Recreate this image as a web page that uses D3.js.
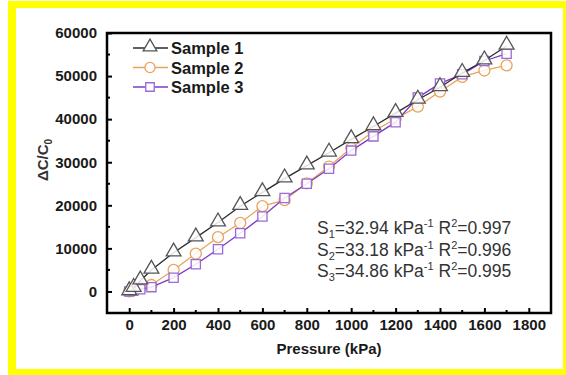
<!DOCTYPE html>
<html>
<head>
<meta charset="utf-8">
<script src="https://cdn.jsdelivr.net/npm/d3@7"></script>
<style>
  body { margin: 0; background: #fff; }
  svg { display: block; font-family: "Liberation Sans", Arial, sans-serif; }
</style>
</head>
<body>
<svg id="chart" width="566" height="375"></svg>
<script>
// data
var pressure = [0, 20, 50, 100, 200, 300, 400, 500, 600, 700, 800, 900, 1000, 1100, 1200, 1300, 1400, 1500, 1600, 1700];
var sample1 = [0, 800, 2500, 5000, 9000, 12500, 16000, 19800, 23000, 26200, 29200, 32200, 35300, 38300, 41400, 44500, 47400, 50700, 53600, 57000];
var sample2 = [0, 300, 800, 1500, 5000, 8800, 12600, 15900, 19800, 21200, 25100, 29000, 33300, 37200, 40100, 42900, 46400, 49800, 51300, 52500];
var sample3 = [0, 200, 500, 1000, 3200, 6300, 9800, 13500, 17400, 21700, 25000, 28500, 32700, 36000, 39300, 45000, 48300, 50400, 53500, 55200];
var seriesNames = ["Sample 1", "Sample 2", "Sample 3"];
var xTicks = [0, 200, 400, 600, 800, 1000, 1200, 1400, 1600, 1800];
var xMinor = [100, 300, 500, 700, 900, 1100, 1300, 1500, 1700];
var yTicks = [0, 10000, 20000, 30000, 40000, 50000, 60000];
var yMinor = [5000, 15000, 25000, 35000, 45000, 55000];
var fitLabels = [
  { s: "1", slope: "32.94", r2: "0.997" },
  { s: "2", slope: "33.18", r2: "0.996" },
  { s: "3", slope: "34.86", r2: "0.995" }
];

var styles = [
  { line: "#2b2b2b", mark: "#555", shape: d3.symbolTriangle, size: 95 },
  { line: "#e9a35c", mark: "#e9a35c", shape: d3.symbolCircle, size: 95 },
  { line: "#7a3cc8", mark: "#9a6ad6", shape: d3.symbolSquare, size: 85 }
];

var svg = d3.select("#chart");
var margin = { left: 107, right: 15, top: 33, bottom: 62 };
var W = 566, H = 375;

// yellow highlight frame
var yellow = svg.append("g").attr("fill", "#ffff00");
yellow.append("rect").attr("x", 8).attr("y", 1).attr("width", 558).attr("height", 7);
yellow.append("rect").attr("x", 8).attr("y", 1).attr("width", 8).attr("height", 374);
yellow.append("rect").attr("x", 8).attr("y", 369).attr("width", 558).attr("height", 6);
yellow.append("rect").attr("x", 563).attr("y", 1).attr("width", 3).attr("height", 374);

var x = d3.scaleLinear().domain([-100, 1900]).range([margin.left, W - margin.right]);
var y = d3.scaleLinear().domain([-5000, 60000]).range([H - margin.bottom, margin.top]);

// inward ticks
var xAxis = d3.axisBottom(x).tickValues(xTicks).tickSize(-5).tickPadding(9).tickFormat(d3.format("d"));
var yAxis = d3.axisLeft(y).tickValues(yTicks).tickSize(-5).tickPadding(10).tickFormat(d3.format("d"));

var gx = svg.append("g").attr("transform", "translate(0," + (H - margin.bottom) + ")").call(xAxis);
var gy = svg.append("g").attr("transform", "translate(" + margin.left + ",0)").call(yAxis);
[gx, gy].forEach(function (g) {
  g.select(".domain").remove();
  g.selectAll(".tick line").attr("stroke", "#000").attr("stroke-width", 2);
  g.selectAll(".tick text").attr("fill", "#1a1a1a").attr("font-size", "15px").attr("font-weight", "bold")
    .attr("font-family", "Liberation Sans, Arial, sans-serif");
});
gx.selectAll(".tick text").attr("dy", "0.55em");

svg.append("g").selectAll("line").data(xMinor).enter().append("line")
  .attr("x1", function (d) { return x(d); }).attr("x2", function (d) { return x(d); })
  .attr("y1", H - margin.bottom).attr("y2", H - margin.bottom - 3)
  .attr("stroke", "#000").attr("stroke-width", 2);
svg.append("g").selectAll("line").data(yMinor).enter().append("line")
  .attr("y1", function (d) { return y(d); }).attr("y2", function (d) { return y(d); })
  .attr("x1", margin.left).attr("x2", margin.left + 3)
  .attr("stroke", "#000").attr("stroke-width", 2);

// plot frame
svg.append("rect").attr("x", margin.left).attr("y", margin.top)
  .attr("width", W - margin.right - margin.left).attr("height", H - margin.bottom - margin.top)
  .attr("fill", "none").attr("stroke", "#000").attr("stroke-width", 2.5);

// series: orange, purple, then black on top
var allSeries = [sample1, sample2, sample3];
var order = [1, 2, 0];
var line = d3.line().x(function (d) { return x(d[0]); }).y(function (d) { return y(d[1]); });
order.forEach(function (i) {
  var pts = pressure.map(function (p, k) { return [p, allSeries[i][k]]; });
  var st = styles[i];
  svg.append("path").datum(pts).attr("d", line)
    .attr("fill", "none").attr("stroke", st.line).attr("stroke-width", 1.3);
  svg.append("g").selectAll("path").data(pts).enter().append("path")
    .attr("d", d3.symbol().type(st.shape).size(st.size))
    .attr("transform", function (d) {
      var dy = st.shape === d3.symbolTriangle ? -1 : 0;
      return "translate(" + x(d[0]) + "," + (y(d[1]) + dy) + ")";
    })
    .attr("fill", "#fff").attr("fill-opacity", 0.85)
    .attr("stroke", st.mark).attr("stroke-width", 1.3);
});

// legend
var legend = svg.append("g").attr("transform", "translate(133,48)");
seriesNames.forEach(function (name, i) {
  var st = styles[i];
  var row = legend.append("g").attr("transform", "translate(0," + (i * 19.5) + ")");
  row.append("line").attr("x1", 0).attr("x2", 35).attr("y1", 0).attr("y2", 0)
    .attr("stroke", st.line).attr("stroke-width", 1.3);
  row.append("path").attr("d", d3.symbol().type(st.shape).size(st.size * 0.85))
    .attr("transform", "translate(17," + (st.shape === d3.symbolTriangle ? -1 : 0) + ")")
    .attr("fill", "#fff").attr("stroke", st.mark).attr("stroke-width", 1.3);
  row.append("text").attr("x", 38).attr("y", 6).text(name)
    .attr("font-size", "16.5px").attr("font-weight", "bold").attr("fill", "#1a1a1a");
});

// fit annotations
var ann = svg.append("g").attr("fill", "#333").attr("font-size", "17.5px");
fitLabels.forEach(function (f, i) {
  var t = ann.append("text").attr("x", 317).attr("y", 234 + i * 21.5);
  t.append("tspan").text("S");
  t.append("tspan").attr("font-size", "11px").attr("dy", 4).text(f.s);
  t.append("tspan").attr("dy", -4).text("=" + f.slope + " kPa");
  t.append("tspan").attr("font-size", "11px").attr("dy", -7).text("-1");
  t.append("tspan").attr("dy", 7).text(" R");
  t.append("tspan").attr("font-size", "11px").attr("dy", -7).text("2");
  t.append("tspan").attr("dy", 7).text("=" + f.r2);
});

// axis titles
svg.append("text").attr("x", (margin.left + W - margin.right) / 2).attr("y", 354)
  .attr("text-anchor", "middle").attr("font-size", "15px").attr("font-weight", "bold")
  .attr("fill", "#1a1a1a").text("Pressure (kPa)");
var yl = svg.append("text").attr("transform", "translate(48,160) rotate(-90)")
  .attr("text-anchor", "middle").attr("font-size", "15px").attr("font-weight", "bold").attr("fill", "#333");
yl.append("tspan").text("\u0394C/C");
yl.append("tspan").attr("font-size", "10px").attr("dy", 4).text("0");
</script>
</body>
</html>
